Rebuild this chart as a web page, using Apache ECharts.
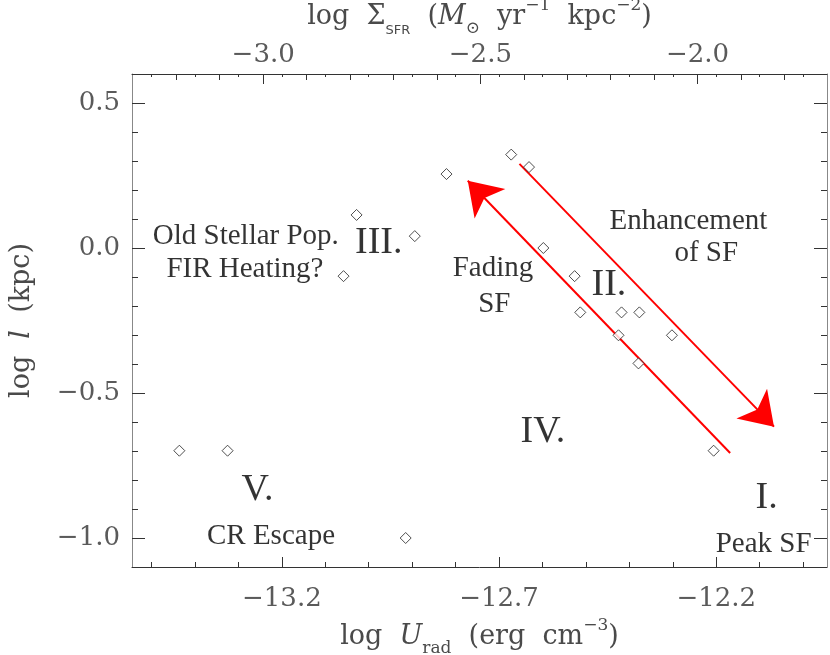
<!DOCTYPE html>
<html>
<head>
<meta charset="utf-8">
<script src="https://cdn.jsdelivr.net/npm/echarts@6/dist/echarts.min.js"></script>
<style>html,body{margin:0;padding:0;background:#fff}#c{width:830px;height:655px}</style>
</head>
<body>
<div id="c"></div>
<script>
// ---- data ----
const logUrad = [-13.028,-12.894,-13.058,-12.821,-12.672,-12.631,-12.598,-12.526,-12.513,-12.418,-12.377,-12.425,-12.302,-12.379,-12.206,-13.436,-13.325,-12.915];
const logL    = [0.114,0.041,-0.097,0.255,0.322,0.279,0.0,-0.097,-0.222,-0.222,-0.222,-0.301,-0.301,-0.398,-0.699,-0.699,-0.699,-1.0];

const uTicks = [-13.2,-12.7,-12.2];
const uTickLabels = ['−13.2','−12.7','−12.2'];
const uMinorTicks = [-13.5,-13.4,-13.3,-13.2,-13.1,-13.0,-12.9,-12.8,-12.7,-12.6,-12.5,-12.4,-12.3,-12.2,-12.1,-12.0];
const sTicks = [-3.0,-2.5,-2.0];
const sTickLabels = ['−3.0','−2.5','−2.0'];
const sMinorTicks = [-3.2,-3.1,-3.0,-2.9,-2.8,-2.7,-2.6,-2.5,-2.4,-2.3,-2.2,-2.1,-2.0,-1.9,-1.8];
const lTicks = [-1.0,-0.5,0.0,0.5];
const lTickLabels = ['−1.0','−0.5','0.0','0.5'];
const lMinorTicks = [-1.0,-0.9,-0.8,-0.7,-0.6,-0.5,-0.4,-0.3,-0.2,-0.1,0.0,0.1,0.2,0.3,0.4,0.5];

const uRange = [-13.545,-11.945];
const sRange = [-3.302,-1.702];
const lRange = [-1.1,0.6];

const fadingArrow  = [[-12.168,-0.707],[-12.772,0.232]];
const enhanceArrow = [[-12.653,0.290],[-12.067,-0.616]];

const annotations = [
  ['Old Stellar Pop.', -13.283, 0.040, 'm'],
  ['FIR Heating?', -13.285, -0.075, 'm'],
  ['III.', -12.977, 0.017, 'b'],
  ['Fading', -12.714, -0.072, 'm'],
  ['SF', -12.711, -0.195, 'm'],
  ['Enhancement', -12.264, 0.093, 'm'],
  ['of SF', -12.223, -0.018, 'm'],
  ['II.', -12.447, -0.128, 'b'],
  ['IV.', -12.599, -0.634, 'b'],
  ['V.', -13.256, -0.834, 'b'],
  ['CR Escape', -13.225, -0.995, 'm'],
  ['I.', -12.084, -0.862, 'b'],
  ['Peak SF', -12.091, -1.022, 'm']
];

// ---- styles ----
const axisFont = 'DejaVu Serif';
const labCol = '#5a5a5a';
const tickCol = '#333';

function fmt(vals, labels){ return v => { const i = vals.findIndex(t => Math.abs(t - v) < 1e-6); return i >= 0 ? labels[i] : ''; }; }

function tickAxis(extra){
  return Object.assign({
    type: 'value', splitLine: {show:false}, axisLine: {show:false, onZero:false},
    axisLabel: {show:false}
  }, extra);
}

const nameRich = {
  a: {fontFamily: axisFont, fontSize: 27, color: '#4a4a4a', lineHeight: 40, verticalAlign: 'middle'},
  i: {fontFamily: axisFont, fontSize: 27, color: '#4a4a4a', fontStyle: 'italic', lineHeight: 40, verticalAlign: 'middle'},
  s: {fontFamily: axisFont, fontSize: 17, color: '#4a4a4a', lineHeight: 17, verticalAlign: 'bottom'},
  c: {fontFamily: 'DejaVu Sans', fontSize: 13, color: '#4a4a4a', lineHeight: 15, verticalAlign: 'bottom'},
  p: {fontFamily: axisFont, fontSize: 17, color: '#4a4a4a', lineHeight: 17, verticalAlign: 'top'}
};

const chart = echarts.init(document.getElementById('c'), null, {renderer: 'canvas'});

const annData = annotations.map(a => ({
  value: [a[1], a[2]],
  label: {formatter: a[0], fontSize: a[3] === 'b' ? 38 : 29}
}));

chart.setOption({
  animation: false,
  backgroundColor: '#fff',
  grid: {left: 132, top: 74, right: 3, bottom: 88, containLabel: false, outerBoundsMode: 'none'},
  xAxis: [
    {
      type: 'value', position: 'bottom', min: uRange[0], max: uRange[1],
      splitLine: {show:false},
      axisLine: {show:true, onZero:false, lineStyle:{color: tickCol, width: 1}},
      axisTick: {show:true, inside:true, length: 10, customValues: uTicks, lineStyle:{color: tickCol}},
      axisLabel: {show:true, customValues: uTicks, formatter: fmt(uTicks, uTickLabels), margin: 19,
                  fontFamily: axisFont, fontSize: 26, color: labCol},
      name: '{a|log  }{i|U}{s|rad}{a|  (erg  cm}{p|−3}{a|)}',
      nameLocation: 'middle', nameGap: 44,
      nameTextStyle: {rich: nameRich}
    },
    tickAxis({position:'bottom', min: uRange[0], max: uRange[1],
      axisTick:{show:true, inside:true, length:5, customValues: uMinorTicks, lineStyle:{color: tickCol}}}),
    {
      type: 'value', position: 'top', min: sRange[0], max: sRange[1],
      splitLine: {show:false},
      axisLine: {show:true, onZero:false, lineStyle:{color: tickCol, width: 1}},
      axisTick: {show:true, inside:true, length: 10, customValues: sTicks, lineStyle:{color: tickCol}},
      axisLabel: {show:true, customValues: sTicks, formatter: fmt(sTicks, sTickLabels), margin: 6,
                  fontFamily: axisFont, fontSize: 26, color: labCol},
      name: '{a|log  Σ}{c|SFR}{a|  (}{i|M}{s|⊙}{a|  yr}{p|−1}{a|  kpc}{p|−2}{a|)}',
      nameLocation: 'middle', nameGap: 36,
      nameTextStyle: {rich: nameRich}
    },
    tickAxis({position:'top', min: sRange[0], max: sRange[1],
      axisTick:{show:true, inside:true, length:6, customValues: sMinorTicks, lineStyle:{color: tickCol}}}),
    tickAxis({position:'top', min: uRange[0], max: uRange[1],
      axisTick:{show:true, inside:true, length:3, customValues: uMinorTicks, lineStyle:{color: tickCol}}})
  ],
  yAxis: [
    {
      type: 'value', position: 'left', min: lRange[0], max: lRange[1],
      splitLine: {show:false},
      axisLine: {show:true, onZero:false, lineStyle:{color: '#888', width: 1}},
      axisTick: {show:true, inside:true, length: 13, customValues: lTicks, lineStyle:{color: tickCol}},
      axisLabel: {show:true, customValues: lTicks, formatter: fmt(lTicks, lTickLabels), margin: 12,
                  fontFamily: axisFont, fontSize: 26, color: labCol},
      name: '{a|log  }{i|l}{a|  (kpc)}',
      nameLocation: 'middle', nameGap: 90,
      nameTextStyle: {rich: nameRich}
    },
    tickAxis({position:'left', min: lRange[0], max: lRange[1],
      axisTick:{show:true, inside:true, length:6, customValues: lMinorTicks, lineStyle:{color: tickCol}}}),
    {
      type: 'value', position: 'right', min: lRange[0], max: lRange[1],
      splitLine: {show:false},
      axisLine: {show:true, onZero:false, lineStyle:{color: '#888', width: 1}},
      axisTick: {show:true, inside:true, length: 13, customValues: lTicks, lineStyle:{color: tickCol}},
      axisLabel: {show:false}
    },
    tickAxis({position:'right', min: lRange[0], max: lRange[1],
      axisTick:{show:true, inside:true, length:6, customValues: lMinorTicks, lineStyle:{color: tickCol}}})
  ],
  series: [
    {
      type: 'lines', coordinateSystem: 'cartesian2d', xAxisIndex: 0, yAxisIndex: 0,
      symbol: ['none', 'arrow'], symbolSize: [20, 32],
      lineStyle: {color: '#ff0000', width: 2, opacity: 1},
      data: [{coords: fadingArrow}, {coords: enhanceArrow}],
      silent: true, z: 3
    },
    {
      type: 'scatter', xAxisIndex: 0, yAxisIndex: 0,
      symbol: 'diamond', symbolSize: 11,
      itemStyle: {color: '#fff', borderColor: '#222', borderWidth: 1},
      data: logUrad.map((u, i) => [u, logL[i]]),
      z: 4
    },
    {
      type: 'scatter', xAxisIndex: 0, yAxisIndex: 0,
      symbolSize: 0, silent: true,
      label: {show: true, position: 'inside', fontFamily: 'Liberation Serif', color: '#000'},
      data: annData, z: 5
    }
  ]
});
</script>
</body>
</html>
